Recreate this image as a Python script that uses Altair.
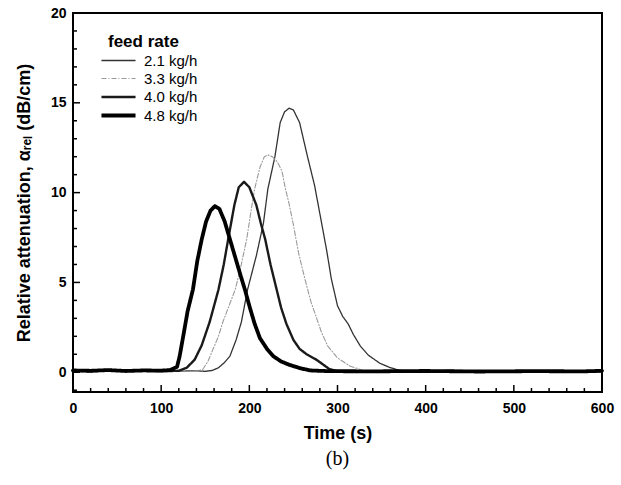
import altair as alt
import pandas as pd

# ---- data ----
feeds = ["2.1 kg/h", "3.3 kg/h", "4.0 kg/h", "4.8 kg/h"]

t_21 = [0, 20, 40, 60, 80, 100, 120, 140, 150, 158, 165, 172, 178, 185, 191, 198, 208, 216, 221, 229, 235,
        240, 245, 250, 257, 266, 274, 282, 288, 293, 300, 306, 312, 318, 326, 335, 348, 360, 371, 390,
        420, 450, 480, 510, 540, 570, 600]
v_21 = [0.10, 0.06, 0.12, 0.08, 0.05, 0.10, 0.06, 0.08, 0.05, 0.10, 0.25, 0.55, 0.9, 1.8, 2.8, 4.6, 6.5, 8.3, 10.2, 12.0, 13.9,
        14.5, 14.7, 14.6, 13.9, 12.0, 10.4, 8.3, 6.7, 5.2, 3.7, 3.1, 2.7, 2.1, 1.45, 0.95, 0.5, 0.25, 0.1, 0.05,
        0.08, 0.04, 0.09, 0.05, 0.07, 0.03, 0.06]

t_33 = [0, 20, 40, 60, 80, 100, 120, 140, 147, 153, 159, 165, 170, 177, 184, 190, 197, 202, 206, 212, 217,
        221, 226, 232, 237, 241, 245, 250, 256, 263, 270, 275, 282, 289, 300, 314, 330, 360, 400, 450, 500,
        550, 600]
v_33 = [0.08, 0.10, 0.05, 0.09, 0.06, 0.08, 0.05, 0.06, 0.15, 0.6, 1.3, 2.0, 2.8, 3.7, 4.6, 5.8, 7.4, 9.0, 10.2, 11.4, 12.0,
        12.1, 12.0, 11.7, 11.2, 10.2, 9.4, 8.2, 6.6, 5.2, 3.9, 3.2, 2.2, 1.45, 0.8, 0.35, 0.08, 0.05, 0.07, 0.04, 0.06,
        0.05, 0.07]

t_40 = [0, 20, 40, 60, 80, 100, 120, 129, 138, 146, 155, 160, 165, 171, 176, 183, 188, 194, 200, 208, 213,
        218, 224, 231, 236, 242, 250, 257, 265, 276, 291, 300, 330, 380, 430, 480, 530, 600]
v_40 = [0.09, 0.05, 0.11, 0.07, 0.10, 0.06, 0.08, 0.25, 0.7, 1.5, 2.8, 3.7, 4.6, 6.0, 7.4, 9.3, 10.3, 10.6, 10.3, 9.3, 8.3,
        7.4, 6.0, 4.6, 3.6, 2.7, 1.8, 1.3, 1.0, 0.7, 0.17, 0.05, 0.06, 0.04, 0.07, 0.05, 0.06, 0.05]

t_48 = [0, 20, 40, 60, 80, 100, 110, 118, 121, 125, 130, 136, 141, 146, 151, 156, 161, 166, 172, 178, 184,
        190, 195, 200, 206, 212, 220, 227, 236, 246, 258, 269, 290, 340, 400, 460, 520, 580, 600]
v_48 = [0.10, 0.08, 0.12, 0.07, 0.10, 0.09, 0.12, 0.3, 0.9, 2.0, 3.4, 4.6, 6.2, 7.4, 8.4, 9.0, 9.25, 9.1, 8.4, 7.4, 6.4,
        5.4, 4.6, 3.7, 2.7, 1.9, 1.3, 0.9, 0.6, 0.4, 0.22, 0.1, 0.06, 0.05, 0.07, 0.04, 0.06, 0.05, 0.08]

x_major = [0, 100, 200, 300, 400, 500, 600]
x_minor = [v for v in range(0, 601, 20) if v % 100 != 0]
y_major = [0, 5, 10, 15, 20]
y_minor = [v for v in range(-1, 21) if v % 5 != 0]

rows = []
for name, ts, vs in zip(feeds, [t_21, t_33, t_40, t_48], [v_21, v_33, v_40, v_48]):
    for i, (t, v) in enumerate(zip(ts, vs)):
        rows.append({"feed": name, "t": t, "v": v, "order": i})
df = pd.DataFrame(rows)

W, H = 529, 379
xs = alt.Scale(domain=[0, 600], nice=False, zero=False)
ys = alt.Scale(domain=[-1.1, 20], nice=False, zero=False)

leg = alt.Legend(title="feed rate", orient="none", legendX=35, legendY=21,
                 symbolType="M-2,0H2", symbolSize=290, symbolFillColor="transparent",
                 labelFontSize=15, titleFontSize=17, titleFontWeight="bold",
                 labelFont="Liberation Sans", titleFont="Liberation Sans",
                 rowPadding=-2, titlePadding=0, labelOffset=15,
                 labelColor="black", titleColor="black")

lines = alt.Chart(df).mark_line(strokeCap="round", strokeJoin="round").encode(
    x=alt.X("t:Q", scale=xs,
            axis=alt.Axis(values=x_major, title="Time (s)", labelPadding=9, titlePadding=9,
                          format="d", labelFlush=False)),
    y=alt.Y("v:Q", scale=ys,
            axis=alt.Axis(values=y_major, title="Relative attenuation, αᵣₑₗ (dB/cm)",
                          labelPadding=7, titlePadding=17, format="d", labelFlush=False)),
    order="order:Q",
    color=alt.Color("feed:O", scale=alt.Scale(type="ordinal", domain=feeds,
                                              range=["#333333", "#9a9a9a", "#1a1a1a", "#000000"]),
                    legend=leg),
    strokeWidth=alt.StrokeWidth("feed:O", scale=alt.Scale(type="ordinal", domain=feeds,
                                                          range=[1.3, 1.1, 2.4, 3.8]),
                                legend=leg),
    strokeDash=alt.StrokeDash("feed:O", scale=alt.Scale(type="ordinal", domain=feeds,
                                                        range=[[1, 0], [5, 2, 1, 2], [1, 0], [1, 0]]),
                              legend=leg),
)

xmaj = alt.Chart(pd.DataFrame({"x": x_major})).mark_rule(color="black", strokeWidth=1.5).encode(
    x=alt.X("x:Q", scale=xs), y=alt.value(H), y2=alt.value(H - 7))
xmin = alt.Chart(pd.DataFrame({"x": x_minor})).mark_rule(color="black", strokeWidth=1.5).encode(
    x=alt.X("x:Q", scale=xs), y=alt.value(H), y2=alt.value(H - 4))
ymaj = alt.Chart(pd.DataFrame({"y": y_major})).mark_rule(color="black", strokeWidth=1.5).encode(
    y=alt.Y("y:Q", scale=ys), x=alt.value(0), x2=alt.value(7))
ymin = alt.Chart(pd.DataFrame({"y": y_minor})).mark_rule(color="black", strokeWidth=1.5).encode(
    y=alt.Y("y:Q", scale=ys), x=alt.value(0), x2=alt.value(4))

chart = alt.layer(xmaj, xmin, ymaj, ymin, lines).properties(
    width=W, height=H,
    background="white",
    title=alt.TitleParams("(b)", orient="bottom", anchor="middle", font="Liberation Serif",
                          fontSize=20, fontWeight="normal", offset=7, color="black"),
    autosize=alt.AutoSizeParams(type="none"),
    padding={"left": 73, "top": 13, "right": 19, "bottom": 93},
).configure_view(stroke="black", strokeWidth=2).configure_axis(
    domain=False, ticks=False, grid=False, labelFont="Liberation Sans", labelFontWeight="bold",
    labelFontSize=14, labelColor="black", titleFont="Liberation Sans", titleFontWeight="bold",
    titleFontSize=18, titleColor="black"
)

chart.save("out.html", embed_options={"renderer": "svg", "actions": False})
